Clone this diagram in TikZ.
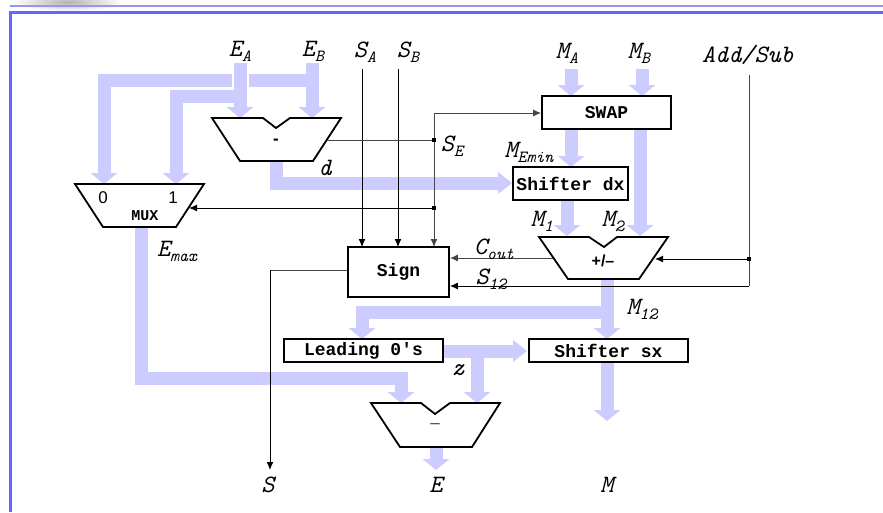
\documentclass[tikz,border=0pt]{standalone}
\usepackage{fontspec}
\setmainfont{Liberation Serif}
\newfontfamily\monof{Liberation Mono}
\newfontfamily\arialf{Liberation Sans}
\usetikzlibrary{arrows.meta}
\definecolor{bus}{RGB}{204,204,255}
\definecolor{frameA}{RGB}{150,150,235}
\definecolor{frameB}{RGB}{102,102,255}
\definecolor{wiregray}{RGB}{70,70,70}
\newcommand{\lsub}[1]{\raisebox{-5pt}{\fontsize{17}{17}\selectfont #1}}
\tikzset{
  busline/.style={draw=bus, line width=13pt},
  bushead/.style={fill=bus, draw=none},
  boxnode/.style={draw, line width=1.8pt, fill=white, inner sep=0pt, font=\monof\bfseries\fontsize{18}{18}\selectfont},
  unit/.style={draw, line width=1.8pt, fill=white, line join=miter},
  lbl/.style={font=\ttfamily\itshape\fontsize{25}{25}\selectfont, inner sep=0pt},
  wire/.style={line width=1pt, draw=black},
  gwire/.style={line width=1pt, draw=wiregray},
  tipped/.style={-{Latex[length=8pt,width=7pt]}},
  jdot/.style={fill=black, draw=none, rectangle, minimum size=4.5pt, inner sep=0pt}
}
% down arrow head: tip at (#1,#2)
\newcommand{\headdown}[2]{\fill[bushead] (#1-13.5,#2-11) -- (#1+13.5,#2-11) -- (#1,#2) -- cycle;}
\newcommand{\headright}[2]{\fill[bushead] (#1-14,#2-11) -- (#1-14,#2+11) -- (#1,#2) -- cycle;}
\begin{document}
\begin{tikzpicture}[x=1pt,y=-1pt]
\useasboundingbox (0,0) rectangle (883,512);
% header decoration
\shade[inner color=gray!60, outer color=white] (68,2) ellipse [x radius=55, y radius=9];
\draw[frameA, line width=2pt] (10,6) -- (883,6);
\draw[frameB, line width=3pt] (9,12) -- (883,12);
\draw[frameB, line width=3pt] (10,11) -- (10,512);

% ---------- coordinates ----------
\coordinate (eaTop) at (240,63);
\coordinate (ebTop) at (312,63);
\coordinate (maTop) at (571,69);
\coordinate (mbTop) at (642,69);

% ---------- buses ----------
% E_B to subtractor and MUX 0
\draw[busline] (ebTop) -- (312,108);
\headdown{312}{118}
\draw[busline, line join=miter] (312,80) -- (104,80) -- (104,174);
\headdown{104}{184}
% E_A crossing (white gap) and to subtractor / MUX 1
\draw[white, line width=17pt] (240,72) -- (240,88);
\draw[busline] (eaTop) -- (240,108);
\headdown{240}{118}
\draw[busline, line join=miter] (246,96) -- (176,96) -- (176,174);
\headdown{176}{184}
% d
\draw[busline, line join=miter] (276,160) -- (276,183) -- (499,183);
\headright{512}{183}
% M_A, M_B
\draw[busline] (maTop) -- (571,86);
\headdown{571}{96}
\draw[busline] (mbTop) -- (642,86);
\headdown{642}{96}
% SWAP outputs
\draw[busline] (571,129) -- (571,157);
\headdown{571}{167}
\draw[busline] (640,129) -- (640,226);
\headdown{640}{236}
% Shifter dx out
\draw[busline] (567,200) -- (567,226);
\headdown{567}{236}
% +/- output M12
\draw[busline] (607,279) -- (607,329);
\headdown{607}{339}
\draw[busline, line join=miter] (607,312) -- (362,312) -- (362,329);
\headdown{362}{339}
% Leading 0's to shifter sx and z
\draw[busline] (443,351) -- (514,351);
\headright{527}{351}
\draw[busline, line join=miter] (470,351) -- (477,351) -- (477,393);
\headdown{477}{403}
% MUX out (E_max)
\draw[busline, line join=miter] (141,227) -- (141,378) -- (401,378) -- (401,393);
\headdown{401}{403}
% Shifter sx out
\draw[busline] (607,362) -- (607,411);
\headdown{607}{421}
% bottom subtractor out
\draw[busline] (436,447) -- (436,460);
\headdown{436}{470}

% ---------- units ----------
\draw[unit] (212,118) -- (263,118) -- (276,128) -- (290,118) -- (341,118) -- (313,161) -- (240,161) -- cycle;
\node[font=\arialf\bfseries\fontsize{17}{17}\selectfont, inner sep=0pt] (subA) at (276,142) {-};
\draw[unit] (75,184) -- (204,184) -- (176,227) -- (103,227) -- cycle;
\node[font=\arialf\fontsize{17}{17}\selectfont, inner sep=0pt] (mux0) at (103,198) {0};
\node[font=\arialf\fontsize{17}{17}\selectfont, inner sep=0pt] (mux1) at (173,198) {1};
\node[font=\monof\bfseries\fontsize{15}{15}\selectfont, inner sep=0pt] (mux) at (145,216) {MUX};
\draw[unit] (539,237) -- (589,237) -- (604,247) -- (617,237) -- (668,237) -- (639,279) -- (568,279) -- cycle;
\node[font=\arialf\bfseries\fontsize{16}{16}\selectfont, inner sep=0pt] (addsub) at (603,261) {+/–};
\draw[unit] (371,403) -- (421,403) -- (435,414) -- (450,403) -- (500,403) -- (472,447) -- (400,447) -- cycle;
\node[font=\arialf\fontsize{17}{17}\selectfont, inner sep=0pt, text=black!75] (subB) at (435,426) {–};

\node[boxnode, minimum width=129pt, minimum height=33pt] (swap) at (606.5,112.5) {SWAP};
\node[boxnode, minimum width=115pt, minimum height=33pt] (shdx) at (570.5,183.5) {Shifter dx};
\node[boxnode, minimum width=101pt, minimum height=50pt] (sign) at (398.5,272) {Sign};
\node[boxnode, minimum width=159pt, minimum height=23pt] (lead) at (363.5,350.5) {Leading 0's};
\node[boxnode, minimum width=159pt, minimum height=23pt] (shsx) at (608.5,350.5) {Shifter sx};

% ---------- wires ----------
\coordinate (saTop) at (362,69);
\coordinate (sbTop) at (398,69);
\coordinate (seOut) at (327,140);
\coordinate (seJ) at (434,140);
\coordinate (seTop) at (434,113);
\coordinate (muxJ) at (434,208);
\coordinate (muxSel) at (189,208);
\coordinate (asTop) at (749,75);
\coordinate (asJ) at (749,259);
\coordinate (asCorner) at (749,286);
\coordinate (asIn) at (655,259);
\coordinate (coutOut) at (553,258);
\coordinate (signOutCorner) at (270,270);
\coordinate (sEnd) at (270,470);

\draw[wire, tipped] (saTop) -- (362,247);
\draw[wire, tipped] (sbTop) -- (398,247);
\draw[gwire] (seOut) -- (seJ);
\draw[gwire, tipped] (seTop) -- (434,247);
\draw[gwire, tipped] (seTop) -- (swap.west |- seTop);
\draw[wire, tipped] (muxJ) -- (muxSel);
\draw[gwire] (asTop) -- (asCorner);
\draw[wire, tipped] (asCorner) -- (sign.east |- asCorner);
\draw[wire, tipped] (asJ) -- (asIn);
\draw[gwire, tipped] (coutOut) -- (sign.east |- coutOut);
\draw[gwire] (sign.west |- signOutCorner) -- (signOutCorner);
\draw[wire, tipped] (signOutCorner) -- (sEnd);
\node[jdot] (d1) at (seJ) {};
\node[jdot] (d2) at (muxJ) {};
\node[jdot] (d3) at (asJ) {};

% ---------- labels ----------
\node[lbl] (lEA) at (240,51) {E\lsub{A}};
\node[lbl] (lEB) at (313,51) {E\lsub{B}};
\node[lbl] (lSA) at (365,52) {S\lsub{A}};
\node[lbl] (lSB) at (408,52) {S\lsub{B}};
\node[lbl] (lMA) at (567,53) {M\lsub{A}};
\node[lbl] (lMB) at (639,53) {M\lsub{B}};
\node[lbl] (lAS) at (748,55) {Add/Sub};
\node[lbl] (lSE) at (452,146) {S\lsub{E}};
\node[lbl] (ld) at (325,168) {d};
\node[lbl] (lMEmin) at (529,152) {M\lsub{Emin}};
\node[lbl] (lM1) at (542,221) {M\lsub{1}};
\node[lbl] (lM2) at (613,221) {M\lsub{2}};
\node[lbl] (lCout) at (494,249) {C\lsub{out}};
\node[lbl] (lS12) at (491,279) {S\lsub{12}};
\node[lbl] (lM12) at (642,309) {M\lsub{12}};
\node[lbl] (lEmax) at (177,251) {E\lsub{max}};
\node[lbl] (lz) at (458,370) {z};
\node[lbl] (lS) at (268,485) {S};
\node[lbl] (lE) at (436,485) {E};
\node[lbl] (lM) at (607,485) {M};
\end{tikzpicture}
\end{document}
